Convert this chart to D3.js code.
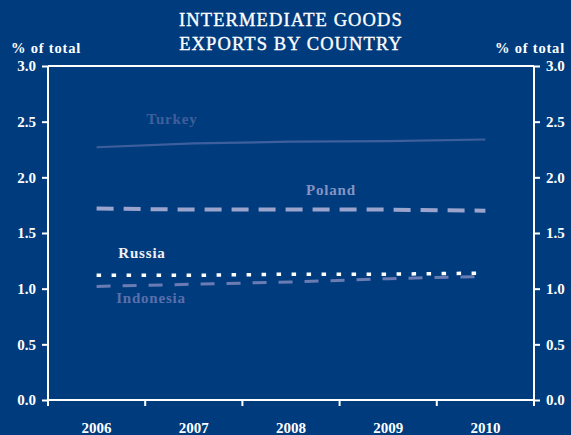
<!DOCTYPE html>
<html>
<head>
<meta charset="utf-8">
<script src="https://cdn.jsdelivr.net/npm/d3@7"></script>
<style>
  html, body { margin: 0; padding: 0; background: #003c7d; }
  svg { display: block; }
  text { font-family: "Liberation Serif", "DejaVu Serif", serif; }
</style>
</head>
<body>
<svg id="chart" width="571" height="435"></svg>
<script>
// Share of intermediate goods exports, % of total
const years = ["2006", "2007", "2008", "2009", "2010"];
const turkey = [2.27, 2.305, 2.32, 2.325, 2.34];
const poland = [1.72, 1.71, 1.71, 1.71, 1.70];
const russia = [1.12, 1.12, 1.13, 1.13, 1.14];
const indonesia = [1.02, 1.04, 1.06, 1.09, 1.11];
const yTicks = [0, 0.5, 1.0, 1.5, 2.0, 2.5, 3.0];

const series = [
  { name: "Turkey", values: turkey, color: "#3d5f9d", width: 2.2, dash: null,
    label: { x: 172, y: 124, color: "#3f5f9c" } },
  { name: "Poland", values: poland, color: "#9aa4cc", width: 4, dash: "17,10",
    label: { x: 331, y: 195, color: "#8494c4" } },
  { name: "Indonesia", values: indonesia, color: "#6a7cb3", width: 3, dash: "14,12",
    label: { x: 151, y: 303, color: "#5a6fab" } },
  { name: "Russia", values: russia, color: "#ffffff", width: 3.5, dash: "4.5,10.5",
    label: { x: 142, y: 257.5, color: "#f0f0f5" } }
];

const svg = d3.select("#chart");
const plotL = 48, plotR = 534, plotT = 66, plotB = 400;

const x = d3.scaleBand().domain(years).range([plotL, plotR]).padding(0);
const y = d3.scaleLinear().domain([0, 3]).range([plotB, plotT]);

// Title
[["INTERMEDIATE GOODS", 26], ["EXPORTS BY COUNTRY", 50]].forEach(([t, ty]) => {
  svg.append("text").attr("x", 291).attr("y", ty).attr("text-anchor", "middle")
    .attr("fill", "#fff").attr("stroke", "#fff").attr("stroke-width", 0.35)
    .attr("font-size", 18.5).attr("letter-spacing", 1.1).text(t);
});

// Units
svg.append("text").attr("x", 11).attr("y", 52.5).attr("fill", "#fff")
  .attr("font-size", 14.5).attr("font-weight", "bold").attr("letter-spacing", 0.8).text("% of total");
svg.append("text").attr("x", 565).attr("y", 52.5).attr("text-anchor", "end").attr("fill", "#fff")
  .attr("font-size", 14.5).attr("font-weight", "bold").attr("letter-spacing", 0.8).text("% of total");

const fmt = d3.format(".1f");

// Left and right value axes
const gL = svg.append("g").attr("transform", `translate(${plotL},0)`)
  .call(d3.axisLeft(y).tickValues(yTicks).tickFormat(fmt).tickSize(6).tickPadding(6));
const gR = svg.append("g").attr("transform", `translate(${plotR},0)`)
  .call(d3.axisRight(y).tickValues(yTicks).tickFormat(fmt).tickSize(6).tickPadding(6));
// Year axis, with ticks at the band boundaries
const gB = svg.append("g").attr("transform", `translate(0,${plotB})`)
  .call(d3.axisBottom(x).tickSize(0).tickPadding(22));
const boundaries = years.map(yr => x(yr)).concat([plotR]);
gB.selectAll("line.bt").data(boundaries).join("line").attr("class", "bt")
  .attr("x1", d => d).attr("x2", d => d).attr("y1", 0).attr("y2", 6)
  .attr("stroke", "#fff").attr("stroke-width", 2);

[gL, gR, gB].forEach(g => {
  g.select(".domain").attr("stroke", "#fff").attr("stroke-width", 2);
  g.selectAll(".tick line").attr("stroke", "#fff").attr("stroke-width", 2);
  g.selectAll(".tick text").attr("fill", "#fff").attr("font-size", 15)
    .attr("font-weight", "bold").attr("font-family", '"Liberation Serif", serif');
});
gB.select(".domain").attr("d", `M${plotL},0H${plotR}`);
gL.select(".domain").attr("d", `M0,${plotT}V${plotB}`);
gR.select(".domain").attr("d", `M0,${plotT}V${plotB}`);

// Top frame line
svg.append("line").attr("x1", plotL).attr("x2", plotR).attr("y1", plotT).attr("y2", plotT)
  .attr("stroke", "#fff").attr("stroke-width", 2);

// Series lines with their labels
const line = d3.line()
  .x((d, i) => x(years[i]) + x.bandwidth() / 2)
  .y(d => y(d));

series.forEach(s => {
  svg.append("path").datum(s.values)
    .attr("d", line)
    .attr("fill", "none")
    .attr("stroke", s.color)
    .attr("stroke-width", s.width)
    .attr("stroke-dasharray", s.dash);
  svg.append("text").attr("x", s.label.x).attr("y", s.label.y)
    .attr("text-anchor", "middle").attr("fill", s.label.color)
    .attr("font-size", 15).attr("font-weight", "bold").attr("letter-spacing", 0.8)
    .text(s.name);
});
</script>
</body>
</html>
